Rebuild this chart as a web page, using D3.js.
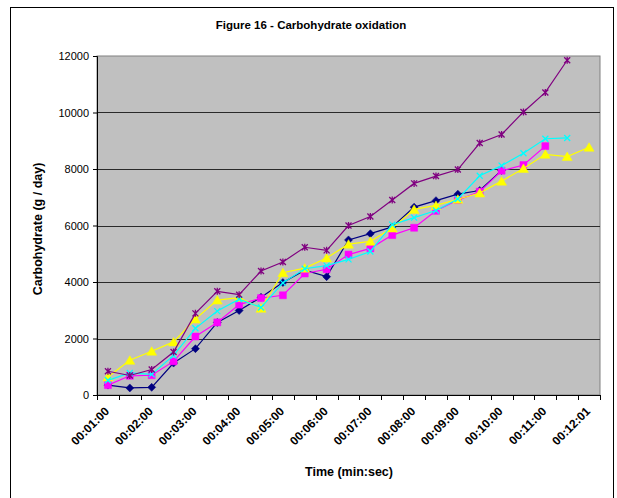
<!DOCTYPE html>
<html>
<head>
<meta charset="utf-8">
<script src="https://cdn.jsdelivr.net/npm/d3@7"></script>
<style>
  body { margin: 0; background: #fff; }
  svg { display: block; }
  text { font-family: Arial, "Liberation Sans", sans-serif; fill: #000; }
</style>
</head>
<body>
<svg id="chart" width="617" height="498"></svg>
<script>
// Time points (30 s apart)
const categories = [
  "00:01:00", "00:01:30", "00:02:00", "00:02:30", "00:03:00", "00:03:30",
  "00:04:00", "00:04:30", "00:05:00", "00:05:30", "00:06:00", "00:06:30",
  "00:07:00", "00:07:30", "00:08:00", "00:08:30", "00:09:00", "00:09:30",
  "00:10:00", "00:10:30", "00:11:00", "00:11:30", "00:12:01"
];
// Every second time point carries a label
const tickLabels = [
  "00:01:00", "00:02:00", "00:03:00", "00:04:00", "00:05:00", "00:06:00",
  "00:07:00", "00:08:00", "00:09:00", "00:10:00", "00:11:00", "00:12:01"
];
const yTicks = [0, 2000, 4000, 6000, 8000, 10000, 12000];

// Carbohydrate oxidation (g / day), one array per series
const seriesNavy = [350, 250, 270, 1130, 1640, 2570, 2990, 3460, 3980, 4420, 4190,
  5490, 5710, 5950, 6650, 6880, 7110, 7240, 7950];
const seriesMagenta = [350, 680, 700, 1190, 2070, 2570, 3200, 3430, 3530, 4300, 4450,
  4970, 5190, 5660, 5920, 6520, 6900, 7200, 7940, 8140, 8810];
const seriesYellow = [640, 1230, 1550, 1880, 2690, 3360, 3450, 3070, 4330, 4490, 4850,
  5340, 5440, 5910, 6570, 6710, 6930, 7150, 7570, 8020, 8520, 8440, 8770];
const seriesCyan = [520, 780, 730, 1400, 2360, 2970, 3390, 3100, 3970, 4470, 4580,
  4800, 5080, 6030, 6280, 6530, 6940, 7760, 8120, 8560, 9070, 9100];
const seriesPurple = [840, 690, 900, 1520, 2890, 3670, 3550, 4390, 4710, 5230, 5120,
  6000, 6320, 6900, 7490, 7750, 7980, 8920, 9220, 10020, 10710, 11850];

const series = [
  { values: seriesNavy,    color: "#000080", marker: "diamond" },
  { values: seriesMagenta, color: "#FF00FF", marker: "square" },
  { values: seriesYellow,  color: "#FFFF00", marker: "triangle" },
  { values: seriesCyan,    color: "#00FFFF", marker: "cross" },
  { values: seriesPurple,  color: "#800080", marker: "star" }
];

const svg = d3.select("#chart");
const plot = { left: 97, right: 600, top: 56, bottom: 395 };

// Outer chart frame
svg.append("rect")
  .attr("x", 10.5).attr("y", 7.5).attr("width", 603).attr("height", 495)
  .attr("fill", "#fff").attr("stroke", "#000").attr("stroke-width", 1);

const x = d3.scaleBand().domain(categories).range([plot.left, plot.right]);
const y = d3.scaleLinear().domain([0, 12000]).range([plot.bottom, plot.top]);
const cx = c => x(c) + x.bandwidth() / 2;

// Plot area
svg.append("rect")
  .attr("x", plot.left).attr("y", plot.top)
  .attr("width", plot.right - plot.left).attr("height", plot.bottom - plot.top)
  .attr("fill", "#C0C0C0").attr("stroke", "#808080").attr("stroke-width", 1);

// Horizontal gridlines
svg.append("g").selectAll("line")
  .data(yTicks.filter(v => v > 0 && v < 12000))
  .join("line")
  .attr("x1", plot.left).attr("x2", plot.right)
  .attr("y1", d => Math.round(y(d)) + 0.5).attr("y2", d => Math.round(y(d)) + 0.5)
  .attr("stroke", "#2a2a2a").attr("stroke-width", 1.2);

// Y axis
const yAxis = svg.append("g")
  .attr("transform", `translate(${plot.left},0)`)
  .call(d3.axisLeft(y).tickValues(yTicks).tickSize(4).tickPadding(4).tickFormat(d3.format("d")));
yAxis.select(".domain").attr("stroke", "#000");
yAxis.selectAll(".tick line").attr("stroke", "#000");
yAxis.selectAll(".tick text").attr("font-size", 11).attr("font-family", "Arial, 'Liberation Sans', sans-serif");

// X axis: line and tick marks at category boundaries
const xg = svg.append("g");
xg.append("line")
  .attr("x1", plot.left).attr("x2", plot.right)
  .attr("y1", plot.bottom + 0.5).attr("y2", plot.bottom + 0.5)
  .attr("stroke", "#000");
const bounds = categories.map(c => x(c)).concat([plot.right]);
xg.selectAll("line.tk").data(bounds).join("line").attr("class", "tk")
  .attr("x1", d => Math.round(d) + 0.5).attr("x2", d => Math.round(d) + 0.5)
  .attr("y1", plot.bottom).attr("y2", plot.bottom + 5)
  .attr("stroke", "#000");

// Rotated time labels
xg.selectAll("text.lbl").data(tickLabels).join("text").attr("class", "lbl")
  .attr("transform", d => `translate(${cx(d) + 2},${plot.bottom + 17}) rotate(-45)`)
  .attr("text-anchor", "end")
  .attr("font-size", 12).attr("font-weight", "bold")
  .text(d => d);

// Marker shapes
function markerPath(type) {
  switch (type) {
    case "diamond": return "M0,-4L4,0L0,4L-4,0Z";
    case "square": return "M-3.5,-3.5H3.5V3.5H-3.5Z";
    case "triangle": return "M0,-4.5L5,4L-5,4Z";
    case "cross": return "M-3,-3L3,3M3,-3L-3,3";
    case "star": return "M-3,-3L3,3M3,-3L-3,3M0,-3.5V3.5";
  }
}

const line = d3.line().x((d, i) => cx(categories[i])).y(d => y(d));

series.forEach(s => {
  const g = svg.append("g");
  g.append("path")
    .attr("d", line(s.values))
    .attr("fill", "none").attr("stroke", s.color).attr("stroke-width", 1.2);
  const open = s.marker === "cross" || s.marker === "star";
  g.selectAll("path.m").data(s.values).join("path").attr("class", "m")
    .attr("transform", (d, i) => `translate(${cx(categories[i])},${y(d)})`)
    .attr("d", markerPath(s.marker))
    .attr("fill", open ? "none" : s.color)
    .attr("stroke", s.color).attr("stroke-width", open ? 1.3 : 0.5);
});

// Titles
svg.append("text")
  .attr("x", 311).attr("y", 29).attr("text-anchor", "middle")
  .attr("font-size", 11.5).attr("font-weight", "bold")
  .text("Figure 16 - Carbohydrate oxidation");

svg.append("text")
  .attr("x", 349).attr("y", 476).attr("text-anchor", "middle")
  .attr("font-size", 12.5).attr("font-weight", "bold")
  .text("Time (min:sec)");

svg.append("text")
  .attr("transform", `translate(42,229) rotate(-90)`)
  .attr("text-anchor", "middle")
  .attr("font-size", 12.5).attr("font-weight", "bold")
  .text("Carbohydrate (g / day)");
</script>
</body>
</html>
